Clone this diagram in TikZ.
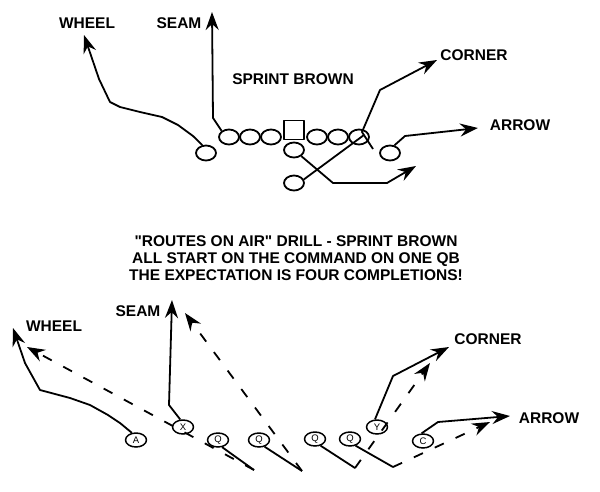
\documentclass[tikz,border=0pt]{standalone}
\usepackage{fontspec}
\setmainfont{Liberation Sans}[Ligatures=TeXOff]
\usetikzlibrary{arrows.meta,shapes.geometric}
\begin{document}
\begin{tikzpicture}[x=1pt,y=-1pt,
  line width=1.8pt, line join=round,
  tipx/.style={-{Stealth[length=18pt,width=13pt,inset=6pt]}},
  dsh/.style={dash pattern=on 10pt off 13pt},
  lbl/.style={font=\fontsize{15.5}{17}\selectfont\bfseries, inner sep=0pt},
  pl/.style={ellipse, draw, line width=1.8pt, minimum width=20pt, minimum height=15pt, inner sep=0pt},
  ctr/.style={rectangle, draw, line width=1.8pt, minimum width=20pt, minimum height=19pt, inner sep=0pt},
  sp/.style={ellipse, draw, line width=1.5pt, minimum width=21pt, minimum height=14pt, inner sep=0pt, font=\fontsize{9.5}{9.5}\selectfont}]
\useasboundingbox (0,0) rectangle (600,491);
% ---------- top diagram ----------
\node[pl] (o1) at (229,137) {};
\node[pl] (o2) at (250,137) {};
\node[pl] (o3) at (271,137) {};
\node[ctr] (cn) at (294,130) {};
\node[pl] (o5) at (317,137) {};
\node[pl] (o6) at (338,137) {};
\node[pl] (o7) at (359,137) {};
\node[pl] (qb) at (294,150) {};
\node[pl] (rb) at (294,183) {};
\node[pl] (wl) at (206,153) {};
\node[pl] (wr) at (390,153) {};
\node[lbl] (tWheel) at (87,23) {WHEEL};
\node[lbl] (tSeam) at (179,23) {SEAM};
\node[lbl] (tSprint) at (293,79) {SPRINT BROWN};
\node[lbl] (tCorner) at (474,55) {CORNER};
\node[lbl] (tArrow) at (520,125) {ARROW};
\coordinate (tWheelTip) at (84,35);
\coordinate (tSeamTip) at (212,12);
\coordinate (tCornerStart) at (373,149);
\coordinate (tCornerTip) at (437,60);
\coordinate (tArrowTip) at (478,128);
\coordinate (tQbTip) at (416,166);
\coordinate (tRbEnd) at (364,135);
\draw[tipx] (wl.115) -- (193,136) -- (178,125) -- (162,117) -- (140,112) -- (120,107) -- (110,102) -- (99,79) -- (tWheelTip);
\draw[tipx] (o1.140) -- (213,118) -- (tSeamTip);
\draw[tipx] (tCornerStart) -- (362,132) -- (380,90) -- (tCornerTip);
\draw[tipx] (wr.60) -- (405,136) -- (tArrowTip);
\draw[tipx] (qb.-40) -- (333,183) -- (387,183) -- (tQbTip);
\draw (rb.20) -- (tRbEnd);
% ---------- text ----------
\node[lbl, align=center] (txt) at (296,258) {"ROUTES ON AIR" DRILL - SPRINT BROWN\\ALL START ON THE COMMAND ON ONE QB\\THE EXPECTATION IS FOUR COMPLETIONS!};
% ---------- bottom diagram ----------
\node[sp] (A) at (136,440) {A};
\node[sp] (X) at (183,427) {X};
\node[sp] (Q1) at (218,440) {Q};
\node[sp] (Q2) at (259,440) {Q};
\node[sp] (Q3) at (315,439) {Q};
\node[sp] (Q4) at (350,439) {Q};
\node[sp] (Y) at (377,427) {Y};
\node[sp] (C) at (423,441) {C};
\node[lbl] (bWheel) at (54,326) {WHEEL};
\node[lbl] (bSeam) at (138,311) {SEAM};
\node[lbl] (bCorner) at (488,339) {CORNER};
\node[lbl] (bArrow) at (549,418) {ARROW};
\coordinate (d1) at (254,470);
\coordinate (d2) at (302,471);
\coordinate (d3) at (355,468);
\coordinate (d4) at (393,467);
\coordinate (bWheelTip) at (13,328);
\coordinate (bWheelDTip) at (27,347);
\coordinate (bSeamTip) at (172,300);
\coordinate (bSeamDTip) at (185,313);
\coordinate (bCornerTip) at (449,347);
\coordinate (bCornerDTip) at (430,363);
\coordinate (bArrowTip) at (510,416);
\coordinate (bArrowDTip) at (490,422);
\draw[tipx] (A.120) -- (120,423) -- (108,415) -- (90,405) -- (70,398) -- (40,390) -- (25,363) -- (bWheelTip);
\draw (Q1.-60) -- (d1);
\draw[tipx,dsh] (d1) -- (bWheelDTip);
\draw[tipx] (X.110) -- (169,405) -- (bSeamTip);
\draw (Q2.-50) -- (d2);
\draw[tipx,dsh] (d2) -- (bSeamDTip);
\draw (Q3.-50) -- (d3);
\draw[tipx,dsh] (d3) -- (bCornerDTip);
\draw (Q4.-50) -- (d4);
\draw[tipx,dsh] (d4) -- (bArrowDTip);
\draw[tipx] (Y.105) -- (393,376) -- (bCornerTip);
\draw[tipx] (C.100) -- (438,422) -- (bArrowTip);
\end{tikzpicture}
\end{document}
